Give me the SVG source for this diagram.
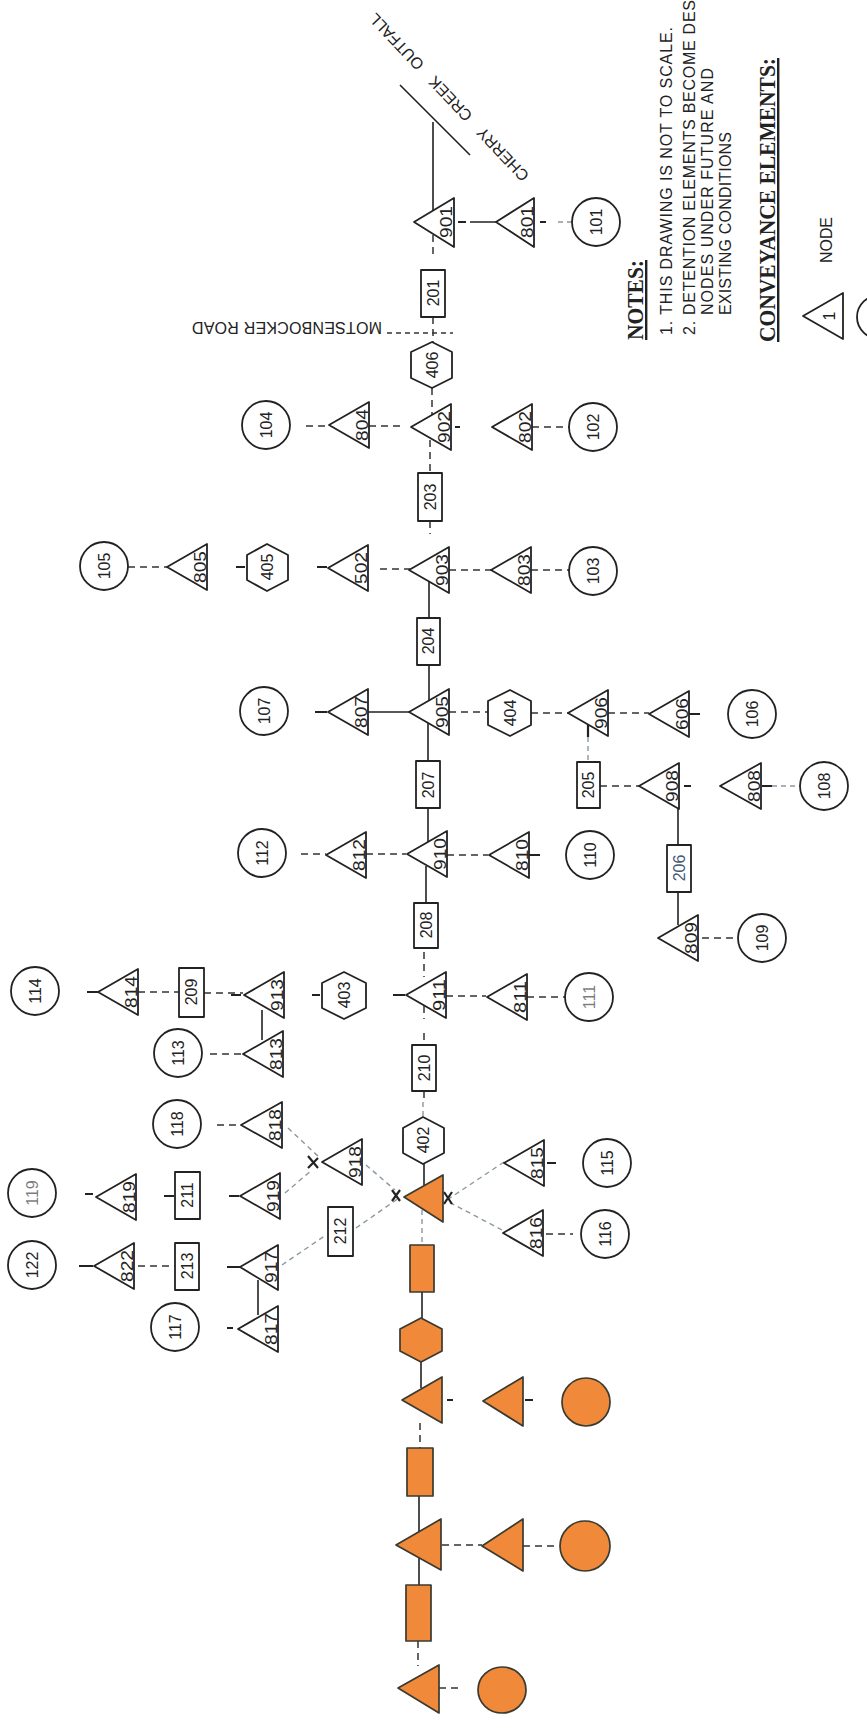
<svg xmlns="http://www.w3.org/2000/svg" width="867" height="1733" viewBox="0 0 867 1733">
<style>
.n{fill:#fff;stroke:#222;stroke-width:1.8;stroke-linejoin:round}
.o{fill:#f08a3a;stroke:#3a3a30;stroke-width:1.7;stroke-linejoin:round}
.t{font-family:"Liberation Sans",Arial,sans-serif;font-size:16px;fill:#222;text-anchor:middle}
.a{font-family:"Liberation Sans",Arial,sans-serif;font-size:17px;fill:#222;text-anchor:middle}
.s{fill:none;stroke:#222;stroke-width:1.6}
.d{fill:none;stroke:#333;stroke-width:1.5;stroke-dasharray:7 5}
.r{fill:none;stroke:#333;stroke-width:1.5;stroke-dasharray:5 4}
.f{fill:none;stroke:#8a98a0;stroke-width:1.4;stroke-dasharray:5 4}
.k{fill:none;stroke:#222;stroke-width:2.2}
.h{font-family:"Liberation Serif","Times New Roman",serif;font-size:24px;font-weight:bold;fill:#222;text-decoration:underline}
.b{font-family:"Liberation Sans",Arial,sans-serif;font-size:16px;fill:#222}
.c{font-family:"Liberation Sans",Arial,sans-serif;font-size:16px;fill:#222}
</style>
<g id="connectors">
<path class="s" d="M400 85L470 155M433 122V210M470 222H496M678 808V845M678 892V925M262 1010V1040M258 1280V1315M429 581V618M429 665V700M428 720V761M428 808V842M426 866V903M424 1164V1185M422 1292V1320M421 1362V1388M419 1496V1532M419 1556V1585M368 712H409"/>
<path class="r" d="M387 333H453"/>
<path class="d" d="M433 235V258M433 317V342M432 388V415M430 440V473M430 521V534M306 426H330M369 426H400M532 427H569M128 567H167M380 569H410M449 570H491M531 570H569M449 712H488M531 713H569M608 713H649M600 786H639M702 938H735M366 854H406M447 855H488M138 992H179M204 993H243M446 996H486M527 997H565M210 1054H242M217 1125H240M138 1266H175M546 1234H573M442 1545H482M523 1546H557M439 1688H463M420 1423V1448M418 1641V1666M424 952V977M424 1006V1019M424 1033V1045M424 1091V1102M301 854H326"/>
<path class="f" d="M558 222H572M423 1102V1117M422 1210V1245M588 737V762M772 786H800M288 1128L320 1158M366 1165L395 1190M285 1193L312 1170M282 1265L326 1235M356 1228L399 1198M504 1162L447 1200M502 1230L445 1200"/>
<path class="k" d="M458 222H466M540 222H546M236 567H245M317 567H327M315 712H327M689 714H700M684 786H691M762 786H772M529 855H540M87 992H99M231 995H241M312 995H320M393 995H405M85 1194H93M164 1196H174M229 1196H239M79 1266H93M547 1163H556M227 1267H242M227 1328H233M447 1400H453M525 1400H533M588 723V737M455 427H460M308 1156L318 1168M308 1168L318 1158M392 1190L400 1201M392 1201L400 1190M444 1192L452 1204M444 1204L452 1192"/>
</g>
<g id="outfall-label"><text class="c" style="word-spacing:11px" transform="translate(530,175) rotate(226.6)">CHERRY CREEK OUTFALL</text></g>
<g id="road-label"><text class="c" transform="translate(382,322) rotate(180)" textLength="190" lengthAdjust="spacing">MOTSENBOCKER ROAD</text></g>

<g id="n901"><polygon class="n" points="414,222 454,198 454,247"/><text class="a" transform="translate(452,222) rotate(-90)" textLength="32" lengthAdjust="spacingAndGlyphs">901</text></g>
<g id="n801"><polygon class="n" points="496,222 534,198 534,247"/><text class="a" transform="translate(533,222) rotate(-90)" textLength="32" lengthAdjust="spacingAndGlyphs">801</text></g>
<g id="n902"><polygon class="n" points="411,427 451,404 451,450"/><text class="a" transform="translate(450,427) rotate(-90)" textLength="32" lengthAdjust="spacingAndGlyphs">902</text></g>
<g id="n804"><polygon class="n" points="329,425 369,402 369,448"/><text class="a" transform="translate(368,425) rotate(-90)" textLength="32" lengthAdjust="spacingAndGlyphs">804</text></g>
<g id="n802"><polygon class="n" points="492,427 532,404 532,450"/><text class="a" transform="translate(531,427) rotate(-90)" textLength="32" lengthAdjust="spacingAndGlyphs">802</text></g>
<g id="n805"><polygon class="n" points="167,567 207,544 207,590"/><text class="a" transform="translate(206,567) rotate(-90)" textLength="32" lengthAdjust="spacingAndGlyphs">805</text></g>
<g id="n502"><polygon class="n" points="328,568 368,545 368,591"/><text class="a" transform="translate(367,568) rotate(-90)" textLength="32" lengthAdjust="spacingAndGlyphs">502</text></g>
<g id="n903"><polygon class="n" points="409,570 449,547 449,593"/><text class="a" transform="translate(448,570) rotate(-90)" textLength="32" lengthAdjust="spacingAndGlyphs">903</text></g>
<g id="n803"><polygon class="n" points="491,570 531,547 531,593"/><text class="a" transform="translate(530,570) rotate(-90)" textLength="32" lengthAdjust="spacingAndGlyphs">803</text></g>
<g id="n807"><polygon class="n" points="328,712 368,689 368,735"/><text class="a" transform="translate(367,712) rotate(-90)" textLength="32" lengthAdjust="spacingAndGlyphs">807</text></g>
<g id="n905"><polygon class="n" points="409,712 449,689 449,735"/><text class="a" transform="translate(448,712) rotate(-90)" textLength="32" lengthAdjust="spacingAndGlyphs">905</text></g>
<g id="n906"><polygon class="n" points="568,713 608,690 608,736"/><text class="a" transform="translate(607,713) rotate(-90)" textLength="32" lengthAdjust="spacingAndGlyphs">906</text></g>
<g id="n606"><polygon class="n" points="649,714 689,691 689,737"/><text class="a" transform="translate(688,714) rotate(-90)" textLength="32" lengthAdjust="spacingAndGlyphs">606</text></g>
<g id="n908"><polygon class="n" points="639,786 679,763 679,809"/><text class="a" transform="translate(678,786) rotate(-90)" textLength="32" lengthAdjust="spacingAndGlyphs">908</text></g>
<g id="n808"><polygon class="n" points="720,786 761,763 761,809"/><text class="a" transform="translate(760,786) rotate(-90)" textLength="32" lengthAdjust="spacingAndGlyphs">808</text></g>
<g id="n809"><polygon class="n" points="658,938 698,915 698,961"/><text class="a" transform="translate(697,938) rotate(-90)" textLength="32" lengthAdjust="spacingAndGlyphs">809</text></g>
<g id="n812"><polygon class="n" points="326,855 366,832 366,878"/><text class="a" transform="translate(365,855) rotate(-90)" textLength="32" lengthAdjust="spacingAndGlyphs">812</text></g>
<g id="n910"><polygon class="n" points="407,854 447,831 447,877"/><text class="a" transform="translate(446,854) rotate(-90)" textLength="32" lengthAdjust="spacingAndGlyphs">910</text></g>
<g id="n810"><polygon class="n" points="489,855 529,832 529,878"/><text class="a" transform="translate(528,855) rotate(-90)" textLength="32" lengthAdjust="spacingAndGlyphs">810</text></g>
<g id="n911"><polygon class="n" points="406,995 446,972 446,1018"/><text class="a" transform="translate(445,995) rotate(-90)" textLength="32" lengthAdjust="spacingAndGlyphs">911</text></g>
<g id="n811"><polygon class="n" points="487,997 527,974 527,1020"/><text class="a" transform="translate(526,997) rotate(-90)" textLength="32" lengthAdjust="spacingAndGlyphs">811</text></g>
<g id="n913"><polygon class="n" points="244,995 284,972 284,1018"/><text class="a" transform="translate(283,995) rotate(-90)" textLength="32" lengthAdjust="spacingAndGlyphs">913</text></g>
<g id="n814"><polygon class="n" points="98,992 138,969 138,1015"/><text class="a" transform="translate(137,992) rotate(-90)" textLength="32" lengthAdjust="spacingAndGlyphs">814</text></g>
<g id="n813"><polygon class="n" points="243,1054 283,1031 283,1077"/><text class="a" transform="translate(282,1054) rotate(-90)" textLength="32" lengthAdjust="spacingAndGlyphs">813</text></g>
<g id="n818"><polygon class="n" points="241,1125 282,1102 282,1148"/><text class="a" transform="translate(281,1125) rotate(-90)" textLength="32" lengthAdjust="spacingAndGlyphs">818</text></g>
<g id="n918"><polygon class="n" points="322,1162 362,1139 362,1185"/><text class="a" transform="translate(361,1162) rotate(-90)" textLength="32" lengthAdjust="spacingAndGlyphs">918</text></g>
<g id="n919"><polygon class="n" points="240,1196 280,1173 280,1219"/><text class="a" transform="translate(279,1196) rotate(-90)" textLength="32" lengthAdjust="spacingAndGlyphs">919</text></g>
<g id="n819"><polygon class="n" points="96,1197 136,1174 136,1220"/><text class="a" transform="translate(135,1197) rotate(-90)" textLength="32" lengthAdjust="spacingAndGlyphs">819</text></g>
<g id="n822"><polygon class="n" points="94,1266 134,1243 134,1289"/><text class="a" transform="translate(133,1266) rotate(-90)" textLength="32" lengthAdjust="spacingAndGlyphs">822</text></g>
<g id="n917"><polygon class="n" points="240,1267 278,1245 278,1290"/><text class="a" transform="translate(277,1267) rotate(-90)" textLength="32" lengthAdjust="spacingAndGlyphs">917</text></g>
<g id="n817"><polygon class="n" points="238,1329 278,1306 278,1352"/><text class="a" transform="translate(277,1329) rotate(-90)" textLength="32" lengthAdjust="spacingAndGlyphs">817</text></g>
<g id="n815"><polygon class="n" points="504,1163 544,1140 544,1186"/><text class="a" transform="translate(543,1163) rotate(-90)" textLength="32" lengthAdjust="spacingAndGlyphs">815</text></g>
<g id="n816"><polygon class="n" points="503,1233 543,1210 543,1256"/><text class="a" transform="translate(542,1233) rotate(-90)" textLength="32" lengthAdjust="spacingAndGlyphs">816</text></g>

<g id="c101"><ellipse class="n" cx="596" cy="222" rx="24" ry="24"/><text class="t" transform="translate(602,222) rotate(-90)">101</text></g>
<g id="c104"><ellipse class="n" cx="266" cy="425" rx="24" ry="24"/><text class="t" transform="translate(272,425) rotate(-90)">104</text></g>
<g id="c102"><ellipse class="n" cx="593" cy="427" rx="24" ry="24"/><text class="t" transform="translate(599,427) rotate(-90)">102</text></g>
<g id="c105"><ellipse class="n" cx="104" cy="566" rx="24" ry="24"/><text class="t" transform="translate(110,566) rotate(-90)">105</text></g>
<g id="c103"><ellipse class="n" cx="593" cy="571" rx="24" ry="24"/><text class="t" transform="translate(599,571) rotate(-90)">103</text></g>
<g id="c107"><ellipse class="n" cx="264" cy="711" rx="24" ry="24"/><text class="t" transform="translate(270,711) rotate(-90)">107</text></g>
<g id="c106"><ellipse class="n" cx="752" cy="714" rx="24" ry="24"/><text class="t" transform="translate(758,714) rotate(-90)">106</text></g>
<g id="c108"><ellipse class="n" cx="824" cy="786" rx="24" ry="24"/><text class="t" transform="translate(830,786) rotate(-90)">108</text></g>
<g id="c109"><ellipse class="n" cx="762" cy="938" rx="24" ry="24"/><text class="t" transform="translate(768,938) rotate(-90)">109</text></g>
<g id="c112"><ellipse class="n" cx="262" cy="853" rx="24" ry="24"/><text class="t" transform="translate(268,853) rotate(-90)">112</text></g>
<g id="c110"><ellipse class="n" cx="590" cy="855" rx="24" ry="24"/><text class="t" transform="translate(596,855) rotate(-90)">110</text></g>
<g id="c111"><ellipse class="n" cx="589" cy="997" rx="24" ry="24"/><text class="t" transform="translate(595,997) rotate(-90)" fill-opacity="0.6">111</text></g>
<g id="c114"><ellipse class="n" cx="35" cy="991" rx="24" ry="24"/><text class="t" transform="translate(41,991) rotate(-90)">114</text></g>
<g id="c113"><ellipse class="n" cx="178" cy="1053" rx="24" ry="24"/><text class="t" transform="translate(184,1053) rotate(-90)">113</text></g>
<g id="c118"><ellipse class="n" cx="177" cy="1124" rx="24" ry="24"/><text class="t" transform="translate(183,1124) rotate(-90)">118</text></g>
<g id="c119"><ellipse class="n" cx="32" cy="1193" rx="24" ry="24"/><text class="t" transform="translate(38,1193) rotate(-90)" fill-opacity="0.6">119</text></g>
<g id="c122"><ellipse class="n" cx="32" cy="1265" rx="24" ry="24"/><text class="t" transform="translate(38,1265) rotate(-90)">122</text></g>
<g id="c117"><ellipse class="n" cx="175" cy="1327" rx="24" ry="24"/><text class="t" transform="translate(181,1327) rotate(-90)">117</text></g>
<g id="c115"><ellipse class="n" cx="607" cy="1163" rx="24" ry="24"/><text class="t" transform="translate(613,1163) rotate(-90)">115</text></g>
<g id="c116"><ellipse class="n" cx="605" cy="1234" rx="24" ry="24"/><text class="t" transform="translate(611,1234) rotate(-90)">116</text></g>

<g id="r201"><rect class="n" x="421" y="270" width="24" height="47"/><text class="t" transform="translate(439,293) rotate(-90)">201</text></g>
<g id="r203"><rect class="n" x="418" y="473" width="24" height="48"/><text class="t" transform="translate(436,497) rotate(-90)">203</text></g>
<g id="r204"><rect class="n" x="417" y="618" width="23" height="47"/><text class="t" transform="translate(434,641) rotate(-90)">204</text></g>
<g id="r207"><rect class="n" x="416" y="761" width="24" height="47"/><text class="t" transform="translate(434,785) rotate(-90)">207</text></g>
<g id="r205"><rect class="n" x="577" y="762" width="23" height="46"/><text class="t" transform="translate(594,785) rotate(-90)">205</text></g>
<g id="r206"><rect class="n" x="667" y="845" width="24" height="47"/><text class="t" transform="translate(685,868) rotate(-90)" style="fill:#3f5a78">206</text></g>
<g id="r208"><rect class="n" x="414" y="903" width="24" height="45"/><text class="t" transform="translate(432,925) rotate(-90)">208</text></g>
<g id="r209"><rect class="n" x="179" y="968" width="25" height="49"/><text class="t" transform="translate(197,992) rotate(-90)">209</text></g>
<g id="r210"><rect class="n" x="412" y="1045" width="24" height="46"/><text class="t" transform="translate(430,1068) rotate(-90)">210</text></g>
<g id="r211"><rect class="n" x="175" y="1172" width="25" height="47"/><text class="t" transform="translate(193,1195) rotate(-90)">211</text></g>
<g id="r212"><rect class="n" x="328" y="1207" width="25" height="49"/><text class="t" transform="translate(346,1231) rotate(-90)">212</text></g>
<g id="r213"><rect class="n" x="175" y="1243" width="24" height="47"/><text class="t" transform="translate(193,1266) rotate(-90)">213</text></g>

<g id="h406"><polygon class="n" points="432,342 452,352 452,378 432,388 411,378 411,352"/><text class="t" transform="translate(438,365) rotate(-90)">406</text></g>
<g id="h405"><polygon class="n" points="267,544 288,555 288,580 267,591 247,580 247,555"/><text class="t" transform="translate(273,567) rotate(-90)">405</text></g>
<g id="h404"><polygon class="n" points="510,690 531,701 531,725 510,736 488,725 488,701"/><text class="t" transform="translate(516,713) rotate(-90)">404</text></g>
<g id="h403"><polygon class="n" points="344,972 366,983 366,1008 344,1019 322,1008 322,983"/><text class="t" transform="translate(350,995) rotate(-90)">403</text></g>
<g id="h402"><polygon class="n" points="423,1117 444,1128 444,1153 423,1164 403,1153 403,1128"/><text class="t" transform="translate(429,1140) rotate(-90)">402</text></g>

<g id="o-t1"><polygon class="o" points="404,1197 443,1175 443,1222"/></g>
<g id="o-r1"><rect class="o" x="410" y="1245" width="24" height="47"/></g>
<g id="o-h1"><polygon class="o" points="421,1318 442,1329 442,1351 421,1362 400,1351 400,1329"/></g>
<g id="o-t2"><polygon class="o" points="402,1400 442,1377 442,1423"/></g>
<g id="o-t3"><polygon class="o" points="483,1401 523,1377 523,1426"/></g>
<g id="o-c1"><ellipse class="o" cx="586" cy="1402" rx="24" ry="24"/></g>
<g id="o-r2"><rect class="o" x="407" y="1448" width="26" height="48"/></g>
<g id="o-t4"><polygon class="o" points="396,1545 441,1519 441,1570"/></g>
<g id="o-t5"><polygon class="o" points="482,1546 523,1519 523,1571"/></g>
<g id="o-c2"><ellipse class="o" cx="585" cy="1546" rx="25" ry="25"/></g>
<g id="o-r3"><rect class="o" x="406" y="1585" width="25" height="56"/></g>
<g id="o-t6"><polygon class="o" points="398,1688 439,1665 439,1713"/></g>
<g id="o-c3"><ellipse class="o" cx="502" cy="1690" rx="24" ry="23"/></g>

<g id="notes">
<text class="h" transform="translate(643,340) rotate(-90)" textLength="80" lengthAdjust="spacingAndGlyphs">NOTES:</text>
<text class="b" transform="translate(672,335) rotate(-90)" textLength="308" lengthAdjust="spacing">1. THIS DRAWING IS NOT TO SCALE.</text>
<text class="b" transform="translate(695,335) rotate(-90)" textLength="335" lengthAdjust="spacing">2. DETENTION ELEMENTS BECOME DES</text>
<text class="b" transform="translate(713,315) rotate(-90)" textLength="247" lengthAdjust="spacing">NODES UNDER FUTURE AND</text>
<text class="b" transform="translate(731,315) rotate(-90)" textLength="183" lengthAdjust="spacing">EXISTING CONDITIONS</text>
<text class="h" transform="translate(775,342) rotate(-90)" textLength="284" lengthAdjust="spacingAndGlyphs">CONVEYANCE ELEMENTS:</text>
<text class="c" transform="translate(832,263) rotate(-90)" textLength="46" lengthAdjust="spacingAndGlyphs">NODE</text>
</g>
<g id="legend-node"><polygon class="n" points="803,316 843,293 843,339"/><text class="c" style="text-anchor:middle" transform="translate(835,316) rotate(-90)">1</text></g>
<g id="legend-circle"><ellipse class="n" cx="880" cy="317" rx="23" ry="22"/></g>
</svg>
